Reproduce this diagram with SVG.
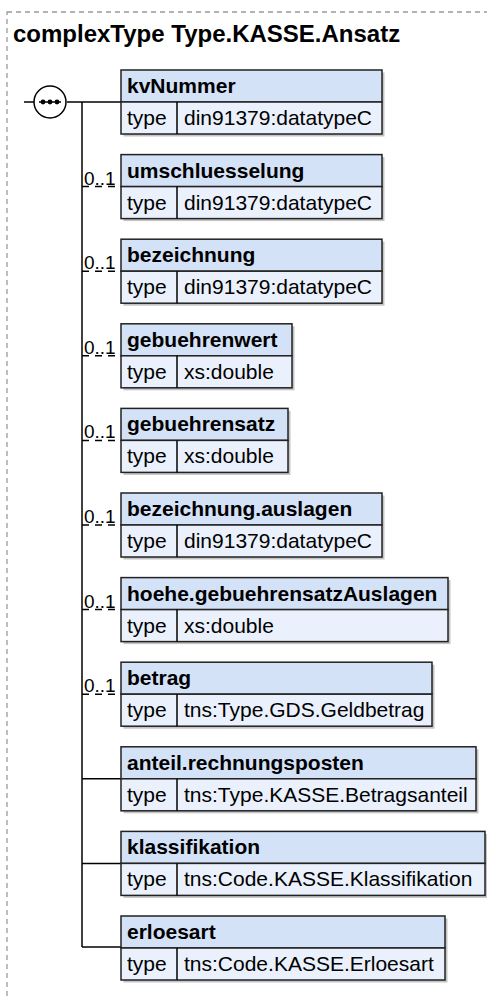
<svg xmlns="http://www.w3.org/2000/svg" width="487" height="996" viewBox="0 0 487 996">
<style>
.frame{fill:none;stroke:#9a9a9a;stroke-width:1.3;stroke-dasharray:5,4}
.title{font-family:"Liberation Sans",Arial,sans-serif;font-weight:bold;font-size:24px;fill:#000}
.shadow{fill:#c4c4c4}
.hdr{fill:#d4e2f7;stroke:#222;stroke-width:1.5}
.row{fill:#eaf1fc;stroke:#222;stroke-width:1.5}
.name{font-family:"Liberation Sans",Arial,sans-serif;font-weight:bold;font-size:21px;fill:#000}
.txt{font-family:"Liberation Sans",Arial,sans-serif;font-size:21px;fill:#000}
.card{font-family:"Liberation Sans",Arial,sans-serif;font-size:19px;fill:#000}
.ln{fill:none;stroke:#000;stroke-width:1.5}
.opt{fill:none;stroke:#000;stroke-width:1.5;stroke-dasharray:7,6}
</style>
<rect class="frame" x="7" y="12" width="500" height="1000"/>
<text class="title" x="13" y="42">complexType Type.KASSE.Ansatz</text>

<g id="connectors">
<line class="ln" x1="24" y1="102" x2="35" y2="102"/>
<line class="ln" x1="67" y1="102" x2="121" y2="102"/>
<line class="ln" x1="82" y1="102" x2="82" y2="947"/>
<line class="opt" x1="82" y1="186.6" x2="121" y2="186.6"/>
<line class="opt" x1="82" y1="271.2" x2="121" y2="271.2"/>
<line class="opt" x1="82" y1="355.8" x2="121" y2="355.8"/>
<line class="opt" x1="82" y1="440.4" x2="121" y2="440.4"/>
<line class="opt" x1="82" y1="525" x2="121" y2="525"/>
<line class="opt" x1="82" y1="609.6" x2="121" y2="609.6"/>
<line class="opt" x1="82" y1="694.2" x2="121" y2="694.2"/>
<line class="ln" x1="82" y1="778.8" x2="121" y2="778.8"/>
<line class="ln" x1="82" y1="863.4" x2="121" y2="863.4"/>
<line class="ln" x1="82" y1="947" x2="121" y2="947"/>
<text class="card" x="84" y="184.6">0..1</text>
<text class="card" x="84" y="269.2">0..1</text>
<text class="card" x="84" y="353.8">0..1</text>
<text class="card" x="84" y="438.4">0..1</text>
<text class="card" x="84" y="523">0..1</text>
<text class="card" x="84" y="607.6">0..1</text>
<text class="card" x="84" y="692.2">0..1</text>
</g>

<g id="sequence">
<circle cx="50" cy="102" r="16" fill="#fff" stroke="#000" stroke-width="1.5"/>
<line class="ln" x1="39" y1="102" x2="61" y2="102"/>
<circle cx="43" cy="102" r="2.4"/>
<circle cx="50" cy="102" r="2.4"/>
<circle cx="57" cy="102" r="2.4"/>
</g>

<g id="kvNummer" transform="translate(121,70)">
<rect class="shadow" x="2.5" y="2.5" width="261" height="64"/>
<rect class="hdr" x="0" y="0" width="261" height="32"/>
<rect class="row" x="0" y="32" width="261" height="32"/>
<line class="ln" x1="56" y1="32" x2="56" y2="64"/>
<text class="name" x="6" y="23">kvNummer</text>
<text class="txt" x="6" y="55">type</text>
<text class="txt" x="63" y="55">din91379:datatypeC</text>
</g>

<g id="umschluesselung" transform="translate(121,154.6)">
<rect class="shadow" x="2.5" y="2.5" width="261" height="64"/>
<rect class="hdr" x="0" y="0" width="261" height="32"/>
<rect class="row" x="0" y="32" width="261" height="32"/>
<line class="ln" x1="56" y1="32" x2="56" y2="64"/>
<text class="name" x="6" y="23">umschluesselung</text>
<text class="txt" x="6" y="55">type</text>
<text class="txt" x="63" y="55">din91379:datatypeC</text>
</g>

<g id="bezeichnung" transform="translate(121,239.2)">
<rect class="shadow" x="2.5" y="2.5" width="261" height="64"/>
<rect class="hdr" x="0" y="0" width="261" height="32"/>
<rect class="row" x="0" y="32" width="261" height="32"/>
<line class="ln" x1="56" y1="32" x2="56" y2="64"/>
<text class="name" x="6" y="23">bezeichnung</text>
<text class="txt" x="6" y="55">type</text>
<text class="txt" x="63" y="55">din91379:datatypeC</text>
</g>

<g id="gebuehrenwert" transform="translate(121,323.8)">
<rect class="shadow" x="2.5" y="2.5" width="171" height="64"/>
<rect class="hdr" x="0" y="0" width="171" height="32"/>
<rect class="row" x="0" y="32" width="171" height="32"/>
<line class="ln" x1="56" y1="32" x2="56" y2="64"/>
<text class="name" x="6" y="23">gebuehrenwert</text>
<text class="txt" x="6" y="55">type</text>
<text class="txt" x="63" y="55">xs:double</text>
</g>

<g id="gebuehrensatz" transform="translate(121,408.4)">
<rect class="shadow" x="2.5" y="2.5" width="167" height="64"/>
<rect class="hdr" x="0" y="0" width="167" height="32"/>
<rect class="row" x="0" y="32" width="167" height="32"/>
<line class="ln" x1="56" y1="32" x2="56" y2="64"/>
<text class="name" x="6" y="23">gebuehrensatz</text>
<text class="txt" x="6" y="55">type</text>
<text class="txt" x="63" y="55">xs:double</text>
</g>

<g id="bezeichnung.auslagen" transform="translate(121,493)">
<rect class="shadow" x="2.5" y="2.5" width="261" height="64"/>
<rect class="hdr" x="0" y="0" width="261" height="32"/>
<rect class="row" x="0" y="32" width="261" height="32"/>
<line class="ln" x1="56" y1="32" x2="56" y2="64"/>
<text class="name" x="6" y="23">bezeichnung.auslagen</text>
<text class="txt" x="6" y="55">type</text>
<text class="txt" x="63" y="55">din91379:datatypeC</text>
</g>

<g id="hoehe.gebuehrensatzAuslagen" transform="translate(121,577.6)">
<rect class="shadow" x="2.5" y="2.5" width="327" height="64"/>
<rect class="hdr" x="0" y="0" width="327" height="32"/>
<rect class="row" x="0" y="32" width="327" height="32"/>
<line class="ln" x1="56" y1="32" x2="56" y2="64"/>
<text class="name" x="6" y="23">hoehe.gebuehrensatzAuslagen</text>
<text class="txt" x="6" y="55">type</text>
<text class="txt" x="63" y="55">xs:double</text>
</g>

<g id="betrag" transform="translate(121,662.2)">
<rect class="shadow" x="2.5" y="2.5" width="311" height="64"/>
<rect class="hdr" x="0" y="0" width="311" height="32"/>
<rect class="row" x="0" y="32" width="311" height="32"/>
<line class="ln" x1="56" y1="32" x2="56" y2="64"/>
<text class="name" x="6" y="23">betrag</text>
<text class="txt" x="6" y="55">type</text>
<text class="txt" x="63" y="55">tns:Type.GDS.Geldbetrag</text>
</g>

<g id="anteil.rechnungsposten" transform="translate(121,746.8)">
<rect class="shadow" x="2.5" y="2.5" width="355" height="64"/>
<rect class="hdr" x="0" y="0" width="355" height="32"/>
<rect class="row" x="0" y="32" width="355" height="32"/>
<line class="ln" x1="56" y1="32" x2="56" y2="64"/>
<text class="name" x="6" y="23">anteil.rechnungsposten</text>
<text class="txt" x="6" y="55">type</text>
<text class="txt" x="63" y="55">tns:Type.KASSE.Betragsanteil</text>
</g>

<g id="klassifikation" transform="translate(121,831.4)">
<rect class="shadow" x="2.5" y="2.5" width="364" height="64"/>
<rect class="hdr" x="0" y="0" width="364" height="32"/>
<rect class="row" x="0" y="32" width="364" height="32"/>
<line class="ln" x1="56" y1="32" x2="56" y2="64"/>
<text class="name" x="6" y="23">klassifikation</text>
<text class="txt" x="6" y="55">type</text>
<text class="txt" x="63" y="55">tns:Code.KASSE.Klassifikation</text>
</g>

<g id="erloesart" transform="translate(121,916)">
<rect class="shadow" x="2.5" y="2.5" width="324" height="64"/>
<rect class="hdr" x="0" y="0" width="324" height="32"/>
<rect class="row" x="0" y="32" width="324" height="32"/>
<line class="ln" x1="56" y1="32" x2="56" y2="64"/>
<text class="name" x="6" y="23">erloesart</text>
<text class="txt" x="6" y="55">type</text>
<text class="txt" x="63" y="55">tns:Code.KASSE.Erloesart</text>
</g>
</svg>
